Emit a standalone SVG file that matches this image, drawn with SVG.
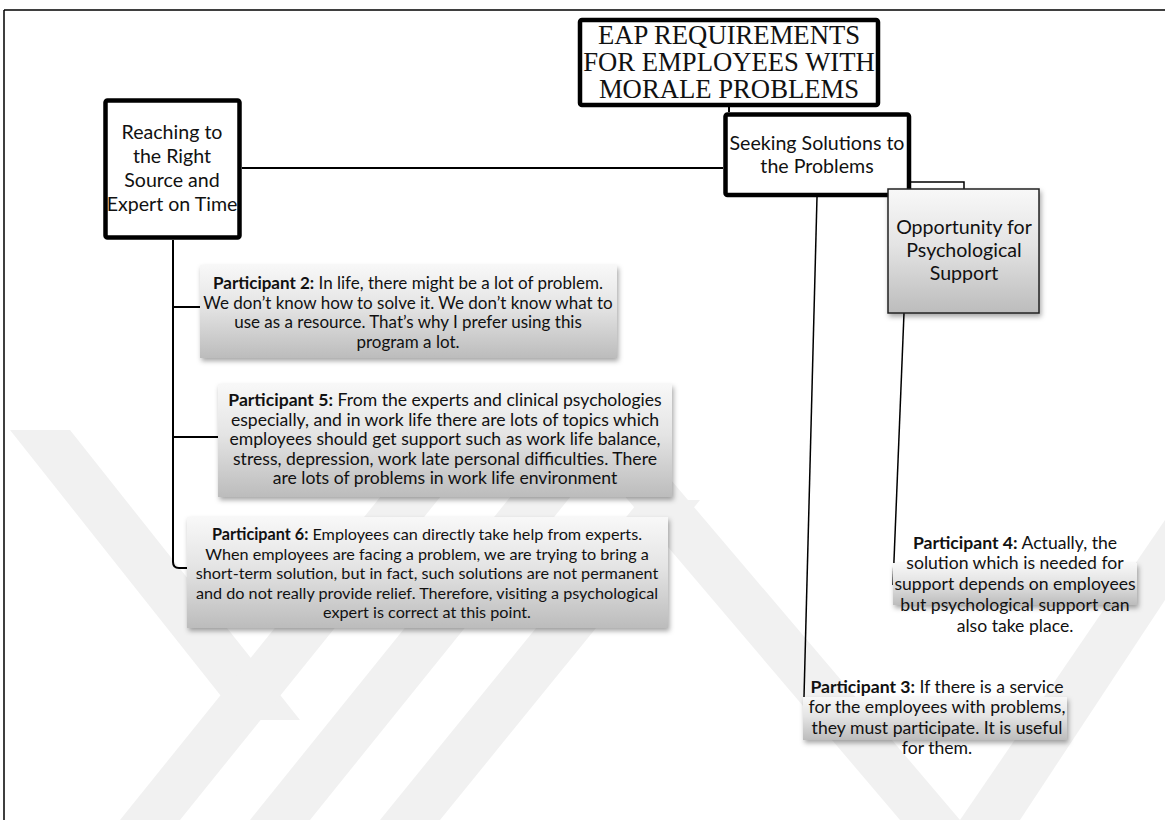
<svg xmlns="http://www.w3.org/2000/svg" width="1165" height="820" viewBox="0 0 1165 820">
  <style>
    .frame { fill: none; stroke: #000; stroke-width: 1.5; }
    .main { fill: #fff; stroke: #000; stroke-width: 4.5; }
    .title { font-family: "Liberation Serif", "Times New Roman", serif; font-size: 26.7px; fill: #111; text-anchor: middle; }
    .label { font-family: Lato, "Open Sans", sans-serif; font-size: 19.6px; fill: #111; text-anchor: middle; }
    .quote { font-family: Lato, "Open Sans", sans-serif; font-size: 17px; fill: #111; text-anchor: middle; }
    .q5 { font-size: 17.6px; }
    .q6 { font-size: 16.2px; }
    .quote-lg { font-family: Lato, "Open Sans", sans-serif; font-size: 17.6px; fill: #111; text-anchor: middle; }
    .b { font-weight: bold; }
    .card { fill: url(#cardFill); filter: url(#shadow); }
    .wire { fill: none; stroke: #000; stroke-width: 2; }
    .wire-thin { fill: none; stroke: #000; stroke-width: 1.5; }
    .mark { fill: #f1f1f1; }
  </style>
  <defs>
    <linearGradient id="cardFill" x1="0" y1="0" x2="0" y2="1">
      <stop offset="0" stop-color="#f8f8f8"/>
      <stop offset="0.45" stop-color="#e4e4e4"/>
      <stop offset="1" stop-color="#bcbcbc"/>
    </linearGradient>
    <filter id="shadow" x="-10%" y="-20%" width="125%" height="150%">
      <feDropShadow dx="1.5" dy="3" stdDeviation="2.5" flood-color="#000" flood-opacity="0.35"/>
    </filter>
  </defs>

  <rect width="1165" height="820" fill="#fff"/>

  <!-- faint background bands -->
  <g id="watermark">
    <polygon class="mark" points="10,430 70,430 300,720 240,720"/>
    <polygon class="mark" points="120,820 180,820 470,460 410,460"/>
    <polygon class="mark" points="250,820 310,820 600,460 540,460"/>
    <polygon class="mark" points="380,820 440,820 700,500 640,500"/>
    <polygon class="mark" points="560,420 620,420 960,820 900,820"/>
    <polygon class="mark" points="960,820 1020,820 1165,600 1165,520"/>
  </g>

  <!-- page frame -->
  <path class="frame" d="M4,10 H1165 M4,10 V820"/>

  <g id="connectors">
    <path class="wire" d="M729,107 V112"/>
    <path class="wire" d="M242,168 H723"/>
    <path class="wire" d="M173,240 V562 Q173,568 179,568 H187"/>
    <path class="wire" d="M173,307 H200"/>
    <path class="wire" d="M173,437 H218"/>
    <path class="wire-thin" d="M911,182 H964 V189"/>
    <path class="wire-thin" d="M817,197 L804,697"/>
    <path class="wire-thin" d="M904,313 L893,585"/>
  </g>

  <g id="root">
    <rect class="main" x="580" y="20" width="298" height="85" rx="2"/>
    <text class="title" x="729" y="44">EAP REQUIREMENTS</text>
    <text class="title" x="729" y="71">FOR EMPLOYEES WITH</text>
    <text class="title" x="729" y="98">MORALE PROBLEMS</text>
  </g>

  <g id="seeking">
    <rect class="main" x="725.5" y="114.5" width="183.5" height="80.5" rx="2"/>
    <text class="label" x="817" y="149.5">Seeking Solutions to</text>
    <text class="label" x="817" y="172.5">the Problems</text>
  </g>

  <g id="reaching">
    <rect class="main" x="105.5" y="100.5" width="134" height="137" rx="2" stroke-width="5"/>
    <text class="label" x="172" y="139">Reaching to</text>
    <text class="label" x="172" y="163">the Right</text>
    <text class="label" x="172" y="187">Source and</text>
    <text class="label" x="172" y="211">Expert on Time</text>
  </g>

  <g id="opportunity">
    <rect class="card" x="888" y="189" width="151" height="124" stroke="#222" stroke-width="1.5"/>
    <text class="label" x="964" y="234">Opportunity for</text>
    <text class="label" x="964" y="257">Psychological</text>
    <text class="label" x="964" y="280">Support</text>
  </g>

  <g id="participant2">
    <rect class="card" x="200" y="265" width="417" height="93"/>
    <text class="quote" x="408" y="289"><tspan class="b">Participant 2:</tspan> In life, there might be a lot of problem.</text>
    <text class="quote" x="408" y="308.5">We don’t know how to solve it. We don’t know what to</text>
    <text class="quote" x="408" y="328">use as a resource. That’s why I prefer using this</text>
    <text class="quote" x="408" y="347.5">program a lot.</text>
  </g>

  <g id="participant5">
    <rect class="card" x="218" y="384" width="454" height="113"/>
    <text class="quote q5" x="445" y="406"><tspan class="b">Participant 5:</tspan> From the experts and clinical psychologies</text>
    <text class="quote q5" x="445" y="425.5">especially, and in work life there are lots of topics which</text>
    <text class="quote q5" x="445" y="445">employees should get support such as work life balance,</text>
    <text class="quote q5" x="445" y="464.5">stress, depression, work late personal difficulties. There</text>
    <text class="quote q5" x="445" y="484">are lots of problems in work life environment</text>
  </g>

  <g id="participant6">
    <rect class="card" x="187" y="517" width="481" height="111"/>
    <text class="quote q6" x="427" y="540"><tspan class="b">Participant 6:</tspan> Employees can directly take help from experts.</text>
    <text class="quote q6" x="427" y="559.5">When employees are facing a problem, we are trying to bring a</text>
    <text class="quote q6" x="427" y="579">short-term solution, but in fact, such solutions are not permanent</text>
    <text class="quote q6" x="427" y="598.5">and do not really provide relief. Therefore, visiting a psychological</text>
    <text class="quote q6" x="427" y="618">expert is correct at this point.</text>
  </g>

  <g id="participant4">
    <rect class="card" x="893" y="563" width="244" height="42"/>
    <text class="quote-lg" x="1015" y="548.5"><tspan class="b">Participant 4:</tspan> Actually, the</text>
    <text class="quote-lg" x="1015" y="569.3">solution which is needed for</text>
    <text class="quote-lg" x="1015" y="590">support depends on employees</text>
    <text class="quote-lg" x="1015" y="610.8">but psychological support can</text>
    <text class="quote-lg" x="1015" y="631.5">also take place.</text>
  </g>

  <g id="participant3">
    <rect class="card" x="803" y="697" width="264" height="43"/>
    <text class="quote-lg" x="937" y="692.5"><tspan class="b">Participant 3:</tspan> If there is a service</text>
    <text class="quote-lg" x="937" y="713">for the employees with problems,</text>
    <text class="quote-lg" x="937" y="733.5">they must participate. It is useful</text>
    <text class="quote-lg" x="937" y="754">for them.</text>
  </g>
</svg>
